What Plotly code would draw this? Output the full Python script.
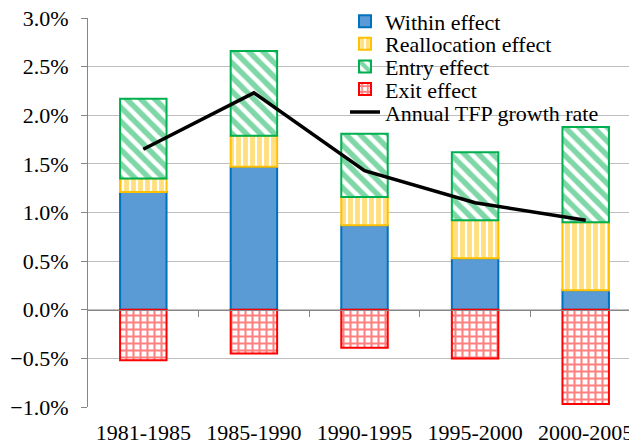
import plotly.graph_objects as go

periods = ["1981-1985", "1985-1990", "1990-1995", "1995-2000", "2000-2005"]
within = [1.21, 1.47, 0.87, 0.53, 0.20]
realloc = [0.14, 0.32, 0.29, 0.39, 0.70]
entry = [0.82, 0.87, 0.65, 0.70, 0.98]
exit_ = [-0.52, -0.45, -0.39, -0.50, -0.97]
tfp = [1.65, 2.23, 1.43, 1.10, 0.92]

FONT = "Liberation Serif"
FS = 22
BW = 0.42

fig = go.Figure()

fig.add_trace(go.Bar(
    x=periods, y=within, name="Within effect", width=BW, legend="legend",
    marker=dict(color="#5B9BD5", line=dict(color="#0070C0", width=2)),
))
fig.add_trace(go.Bar(
    x=periods, y=realloc, name="Reallocation effect", width=BW, legend="legend2",
    marker=dict(color="white", line=dict(color="#FFC000", width=2),
                pattern=dict(shape="|", fgcolor="#FFC000", bgcolor="white",
                             size=7, solidity=0.7, fillmode="overlay")),
))
fig.add_trace(go.Bar(
    x=periods, y=entry, name="Entry effect", width=BW, legend="legend3",
    marker=dict(color="white", line=dict(color="#00B050", width=2),
                pattern=dict(shape="\\", fgcolor="#00B050", bgcolor="white",
                             size=10, solidity=0.55, fillmode="overlay")),
))
fig.add_trace(go.Bar(
    x=periods, y=exit_, name="Exit effect", width=BW, legend="legend4",
    marker=dict(color="white", line=dict(color="#FF0000", width=2),
                pattern=dict(shape="+", fgcolor="#FF0000", bgcolor="white",
                             size=7, solidity=0.5, fillmode="overlay")),
))
fig.add_trace(go.Scatter(
    x=periods, y=tfp, name="Annual TFP growth rate", mode="lines",
    legend="legend5", line=dict(color="black", width=3.5),
))

# axis line at zero with category separator ticks (Excel style)
fig.add_trace(go.Scatter(x=[None], y=[None], xaxis="x2", showlegend=False,
                         hoverinfo="skip"))

xr = [-0.5, -0.5 + 541 / 110.6]


def leg(y):
    return dict(x=0.475, y=y, xanchor="left", yanchor="top",
                bgcolor="rgba(0,0,0,0)", itemwidth=30,
                font=dict(family=FONT, size=FS, color="black"))


fig.update_layout(
    width=629, height=445,
    margin=dict(l=88, r=0, t=18, b=38, autoexpand=False),
    paper_bgcolor="white", plot_bgcolor="white",
    barmode="relative",
    font=dict(family=FONT, size=FS, color="black"),
    showlegend=True,
    legend=leg(1.045), legend2=leg(0.987), legend3=leg(0.929),
    legend4=leg(0.871), legend5=leg(0.812),
    xaxis=dict(
        range=xr, showgrid=False, showline=False, ticks="",
        tickfont=dict(family=FONT, size=FS, color="black"),
        ticklabelstandoff=10, automargin=False,
    ),
    xaxis2=dict(
        overlaying="x", anchor="free", position=0.25, range=xr,
        tickvals=[0.5, 1.5, 2.5, 3.5], showticklabels=False,
        ticks="outside", ticklen=6, tickcolor="#868686",
        showline=True, linecolor="#868686", linewidth=1, showgrid=False,
        zeroline=False, automargin=False,
    ),
    yaxis=dict(
        range=[-1.0, 3.0], dtick=0.5, tickformat=".1f", ticksuffix="%",
        showgrid=True, gridcolor="#BFBFBF", gridwidth=1,
        zeroline=False,
        showline=True, linecolor="#868686", linewidth=1,
        ticks="outside", ticklen=6, tickcolor="#868686",
        tickfont=dict(family=FONT, size=FS, color="black"),
        ticklabelstandoff=8, automargin=False,
    ),
)

fig.write_html("out.html", config={"displayModeBar": False},
               post_script="document.body.style.margin='0';")
